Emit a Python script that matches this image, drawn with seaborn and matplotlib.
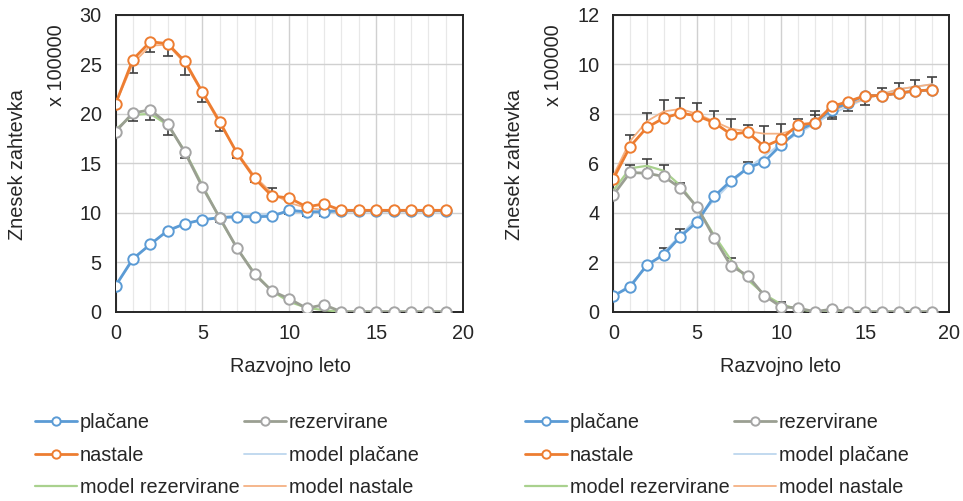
import numpy as np
import matplotlib
matplotlib.use("Agg")
import matplotlib.pyplot as plt
from matplotlib.ticker import MultipleLocator
import seaborn as sns

# development years
leta = list(range(20))

# left panel (x 100000)
l_placane = [2.6, 5.35, 6.8, 8.2, 8.9, 9.3, 9.5, 9.6, 9.6, 9.65,
             10.25, 10.1, 10.1, 10.2, 10.2, 10.2, 10.2, 10.2, 10.2, 10.2]
l_rezervirane = [18.2, 20.1, 20.4, 19.0, 16.1, 12.6, 9.5, 6.4, 3.8, 2.1,
                 1.3, 0.35, 0.7, 0.0, 0.0, 0.0, 0.0, 0.0, 0.0, 0.0]
l_nastale = [21.0, 25.5, 27.3, 27.1, 25.3, 22.2, 19.2, 16.0, 13.5, 11.7,
             11.5, 10.6, 10.9, 10.25, 10.25, 10.25, 10.25, 10.25, 10.25, 10.25]
l_model_placane = [2.6, 5.2, 6.9, 8.1, 8.9, 9.3, 9.6, 9.7, 9.8, 9.9,
                   10.0, 10.1, 10.15, 10.2, 10.2, 10.2, 10.2, 10.2, 10.2, 10.2]
l_model_rezervirane = [18.4, 19.9, 20.0, 18.9, 16.2, 12.8, 9.4, 6.4, 3.9, 2.1,
                       1.0, 0.4, 0.15, 0.0, 0.0, 0.0, 0.0, 0.0, 0.0, 0.0]
l_model_nastale = [21.0, 25.1, 26.9, 27.0, 25.1, 22.1, 19.0, 16.1, 13.7, 12.0,
                   11.0, 10.5, 10.3, 10.2, 10.2, 10.2, 10.2, 10.2, 10.2, 10.2]
# error bar ends, signed (negative = below the point)
l_err_placane = [0, 0, 0, 0, 0, 0, 0, 0, 0, 0,
                 -0.4, -0.4, -0.4, 0, 0, 0, 0, 0, 0, 0]
l_err_rezervirane = [0, -0.8, -1.0, -1.1, -0.6, 0, -0.4, 0, 0, 0,
                     0, 0, 0, 0, 0, 0, 0, 0, 0, 0]
l_err_nastale = [0, -1.4, -1.0, -1.2, -1.4, -1.0, -0.9, -0.5, -0.4, 0.8,
                 0, -0.3, -0.3, -0.3, -0.3, -0.3, -0.3, -0.3, -0.3, -0.3]

# right panel (x 100000)
r_placane = [0.64, 1.01, 1.89, 2.3, 3.04, 3.64, 4.66, 5.29, 5.81, 6.07,
             6.75, 7.32, 7.65, 8.17, 8.45, 8.74, 8.74, 8.84, 8.93, 8.97]
r_rezervirane = [4.72, 5.63, 5.6, 5.47, 5.0, 4.23, 3.0, 1.86, 1.46, 0.65,
                 0.2, 0.15, 0.0, 0.1, 0.0, 0.0, 0.0, 0.0, 0.0, 0.0]
r_nastale = [5.37, 6.68, 7.45, 7.83, 8.03, 7.92, 7.65, 7.18, 7.26, 6.68,
             6.98, 7.56, 7.63, 8.3, 8.5, 8.74, 8.74, 8.84, 8.93, 8.97]
r_model_placane = [0.6, 1.1, 1.8, 2.4, 3.1, 3.8, 4.5, 5.2, 5.8, 6.3,
                   6.8, 7.2, 7.6, 8.0, 8.3, 8.6, 8.8, 9.0, 9.1, 9.2]
r_model_rezervirane = [4.9, 5.8, 5.9, 5.7, 5.1, 4.2, 3.1, 2.1, 1.3, 0.7,
                       0.3, 0.1, 0.0, 0.0, 0.0, 0.0, 0.0, 0.0, 0.0, 0.0]
r_model_nastale = [5.5, 6.9, 7.7, 8.1, 8.2, 8.0, 7.7, 7.4, 7.3, 7.2,
                   7.2, 7.4, 7.7, 8.1, 8.4, 8.6, 8.8, 9.0, 9.1, 9.2]
r_err_placane = [0, 0, 0, 0.27, 0.29, 0, 0, 0, 0.26, 0,
                 0, 0, 0.3, -0.3, 0, 0, 0, 0, 0, 0]
r_err_rezervirane = [0, 0.31, 0.57, 0.47, 0.2, 0, 0, 0.3, 0, 0,
                     0.2, 0, 0, 0, 0, 0, 0, 0, 0, 0]
r_err_nastale = [0, 0.47, 0.58, 0.74, 0.61, 0.52, 0.45, 0.61, 0.3, 0.84,
                 0.62, 0.24, 0.47, -0.5, -0.4, -0.4, 0.31, 0.41, 0.45, 0.54]

c_plac = "#5B9BD5"
c_rez = "#A5A5A5"
c_nast = "#ED7D31"
c_mplac = "#BDD7EE"
c_mrez = "#A9D18E"
c_mnast = "#F4B183"

sns.set_style("white")
plt.rcParams["font.family"] = ["Liberation Sans", "DejaVu Sans"]
FS = 14.3

fig = plt.figure(figsize=(9.63, 5.01), dpi=100)
W, H = 963, 501


def px_axes(x0, x1, y0, y1):
    return fig.add_axes([x0 / W, 1 - y1 / H, (x1 - x0) / W, (y1 - y0) / H])


def draw_err(ax, y, off):
    x = np.array(leta)
    y = np.array(y)
    off = np.array(off)
    m = off != 0
    lo = np.where(off < 0, -off, 0)[m]
    hi = np.where(off > 0, off, 0)[m]
    ax.errorbar(x[m], y[m], yerr=[lo, hi], fmt="none", ecolor="#404040",
                elinewidth=1.2, capsize=3.5, capthick=1.2, zorder=2)


def panel(ax, plac, rez, nast, mplac, mrez, mnast, eplac, erez, enast, ymax, ystep):
    mk = dict(marker="o", markersize=7.5, markerfacecolor="white",
              markeredgewidth=1.4, linewidth=2)
    sns.lineplot(x=leta, y=mplac, ax=ax, color=c_mplac, linewidth=1.3,
                 label="model plačane", zorder=3)
    sns.lineplot(x=leta, y=mrez, ax=ax, color=c_mrez, linewidth=1.6,
                 label="model rezervirane", zorder=3)
    sns.lineplot(x=leta, y=mnast, ax=ax, color=c_mnast, linewidth=1.3,
                 label="model nastale", zorder=3)
    draw_err(ax, plac, eplac)
    draw_err(ax, rez, erez)
    draw_err(ax, nast, enast)
    sns.lineplot(x=leta, y=plac, ax=ax, color=c_plac, markeredgecolor=c_plac,
                 label="plačane", zorder=4, **mk)
    sns.lineplot(x=leta, y=rez, ax=ax, color="#9A9F92", markeredgecolor=c_rez,
                 label="rezervirane", zorder=4, **mk)
    sns.lineplot(x=leta, y=nast, ax=ax, color=c_nast, markeredgecolor=c_nast,
                 label="nastale", zorder=5, **mk)
    ax.set_xlim(0, 20)
    ax.set_ylim(0, ymax)
    ax.xaxis.set_major_locator(MultipleLocator(5))
    ax.xaxis.set_minor_locator(MultipleLocator(1))
    ax.yaxis.set_major_locator(MultipleLocator(ystep))
    ax.grid(True, which="major", color="#D0D0D0", linewidth=1.0)
    ax.grid(True, which="minor", axis="x", color="#E8E8E8", linewidth=0.9)
    ax.set_axisbelow(True)
    for s in ax.spines.values():
        s.set_color("#262626")
        s.set_linewidth(1.4)
    ax.tick_params(which="both", length=0, labelsize=FS, colors="#262626")
    ax.tick_params(axis="y", pad=10)
    ax.tick_params(axis="x", pad=9)
    ax.set_xlabel("")
    ax.set_ylabel("")
    h, l = ax.get_legend_handles_labels()
    if ax.get_legend():
        ax.get_legend().remove()
    d = dict(zip(l, h))
    order = ["plačane", "nastale", "model rezervirane",
             "rezervirane", "model plačane", "model nastale"]
    return [d[k] for k in order], order


axL = px_axes(115.5, 463, 15, 311.7)
axR = px_axes(613.3, 949, 15, 311.7)

hL, lL = panel(axL, l_placane, l_rezervirane, l_nastale, l_model_placane,
               l_model_rezervirane, l_model_nastale, l_err_placane,
               l_err_rezervirane, l_err_nastale, 30, 5)
hR, lR = panel(axR, r_placane, r_rezervirane, r_nastale, r_model_placane,
               r_model_rezervirane, r_model_nastale, r_err_placane,
               r_err_rezervirane, r_err_nastale, 12, 2)

txt = dict(fontsize=FS, color="#262626", ha="center", va="center")
for xc, xs in [(290, 18), (780, 515)]:
    fig.text(xc / W, 1 - 367 / H, "Razvojno leto", **txt)
    fig.text(xs / W, 1 - 165 / H, "Znesek zahtevka", rotation=90, **txt)
    fig.text((xs + 38) / W, 1 - 65 / H, "x 100000", rotation=90, **txt)

for ax, h, l, x0 in [(axL, hL, lL, 35), (axR, hR, lR, 525)]:
    ax.legend(h, l, ncol=2, loc="upper left", frameon=False,
              bbox_to_anchor=(x0 / W, 1 - 413 / H), bbox_transform=fig.transFigure,
              fontsize=FS, handlelength=2.1, handletextpad=0.15,
              columnspacing=0.25, labelspacing=0.68, borderpad=0,
              borderaxespad=0, numpoints=1, markerscale=0.8)

fig.savefig("out.png", dpi=100)
